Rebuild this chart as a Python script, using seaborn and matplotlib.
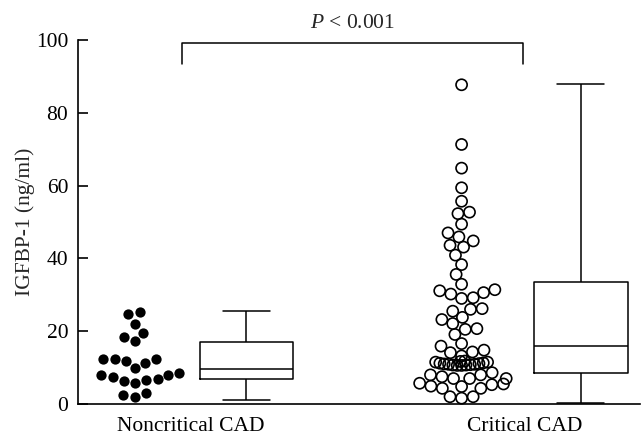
import numpy as np
import pandas as pd
import matplotlib
matplotlib.use("Agg")
import matplotlib.pyplot as plt
import seaborn as sns

# ---------------- data ----------------
groups = ["Noncritical CAD", "Critical CAD"]

noncritical_values = [25.3, 24.6, 22.1, 19.6, 18.3, 17.3, 12.5, 12.4, 12.4,
                      11.9, 11.3, 9.8, 8.4, 8.1, 8.1, 7.5, 6.8, 6.6, 6.4,
                      5.7, 2.9, 2.5, 2.0]

critical_values = [87.7, 71.3, 64.8, 59.4, 55.7, 52.7, 52.3, 49.4, 47.0,
                   45.9, 44.8, 43.6, 43.1, 40.9, 38.3, 35.6, 32.9, 31.4,
                   31.1, 30.6, 30.2, 29.2, 29.0, 26.2, 26.0, 25.5, 23.8,
                   23.2, 22.1, 20.7, 20.5, 19.1, 16.6, 15.9, 14.8, 14.3,
                   14.1, 13.2,
                   11.8, 11.7, 11.5, 11.5, 11.3, 11.2, 11.1, 11.0, 10.9,
                   10.9, 10.8, 10.7, 10.7, 10.6, 10.6,
                   8.6, 8.0, 8.0, 7.5, 7.0, 7.0, 7.0, 5.7, 5.5, 5.3, 4.9,
                   4.8, 4.3, 4.3, 2.0, 2.0, 1.6]

# box summaries: whisker low, Q1, median, Q3, whisker high
noncritical_box = [1.1, 6.8, 9.5, 17.1, 25.5]
critical_box = [0.4, 8.6, 15.9, 33.5, 87.9]

y_ticks = [0, 20, 40, 60, 80, 100]
p_text = "$P$ < 0.001"
y_label = "IGFBP-1 (ng/ml)"

# ---------------- layout ----------------
scatter_pos = [0.0, 2.93]
box_pos = [1.0, 4.0]
label_pos = [0.5, 3.5]

sns.set_style("ticks")
plt.rcParams["font.family"] = ["Liberation Serif", "DejaVu Serif"]
plt.rcParams["mathtext.fontset"] = "custom"
plt.rcParams["mathtext.it"] = "Liberation Serif:italic"
plt.rcParams["mathtext.rm"] = "Liberation Serif"

FS = 15.5
fig = plt.figure(figsize=(6.42, 4.44), dpi=100)
ax = fig.add_axes([78 / 642, 40 / 444, 562 / 642, 364 / 444])

# box plots built from the summaries (whiskers at min/max)
box_df = pd.DataFrame({
    "pos": [box_pos[0]] * len(noncritical_box) + [box_pos[1]] * len(critical_box),
    "value": noncritical_box + critical_box,
})
sns.boxplot(data=box_df, x="pos", y="value", native_scale=True, orient="x",
            whis=(0, 100), width=0.28, fill=False, color="black",
            linewidth=1.1, ax=ax)

# dot columns: swarm layout computed with a spacing size, drawn at marker size
swarms = []


def swarm(values, pos, spacing_pt, marker_pt, filled):
    sns.swarmplot(x=np.full(len(values), pos), y=values, native_scale=True,
                  orient="x", size=spacing_pt, color="black", linewidth=0,
                  warn_thresh=1.0, ax=ax)
    swarms.append((ax.collections[-1], marker_pt, filled))


swarm(noncritical_values, scatter_pos[0], 8.0, 7.4, True)

crit = np.array(critical_values)
band = (crit > 10.5) & (crit < 12.0)   # tightly packed row in the original
swarm(crit[~band], scatter_pos[1], 8.0, 8.0, False)
swarm(crit[band], scatter_pos[1], 3.0, 8.0, False)

ax.set_xlim(-0.51, 4.53)
ax.set_ylim(0, 100)
ax.set_yticks(y_ticks)
ax.set_xticks(label_pos)
ax.set_xticklabels(groups)
ax.set_xlabel("")
ax.set_ylabel(y_label, fontsize=FS, labelpad=1)

for s in ["top", "right"]:
    ax.spines[s].set_visible(False)
for s in ["left", "bottom"]:
    ax.spines[s].set_linewidth(1.2)
    ax.spines[s].set_color("black")
ax.tick_params(axis="y", direction="in", length=7.5, width=1.2,
               labelsize=FS, pad=7, colors="black")
ax.tick_params(axis="x", length=0, labelsize=FS, pad=9, colors="black")

# significance bracket
ax.plot([0.42, 0.42, 3.48, 3.48], [93.4, 99.3, 99.3, 93.4], color="black",
        lw=1.1, clip_on=False)
ax.text(1.95, 104.6, p_text, ha="center", va="center", fontsize=FS,
        clip_on=False)

# run the swarm layout once, then draw the markers at their real size
fig.canvas.draw()
for coll, marker_pt, filled in swarms:
    coll.__dict__.pop("draw", None)
    coll.set_sizes([marker_pt ** 2])
    coll.set_clip_on(False)
    if filled:
        coll.set_facecolor("black")
        coll.set_linewidth(0)
    else:
        coll.set_facecolor("none")
        coll.set_edgecolor("black")
        coll.set_linewidth(1.2)

fig.savefig("out.png", dpi=100)
